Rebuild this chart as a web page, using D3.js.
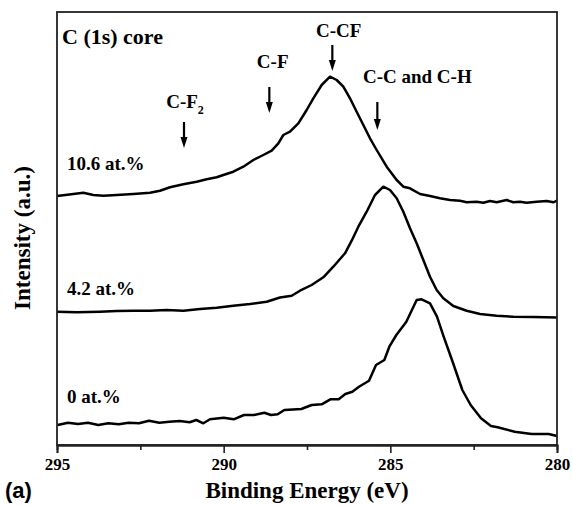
<!DOCTYPE html>
<html>
<head>
<meta charset="utf-8">
<script src="https://cdn.jsdelivr.net/npm/d3@7"></script>
<style>
  html, body { margin: 0; padding: 0; background: #fff; }
  svg { display: block; }
  text { font-family: "Liberation Serif", "Times New Roman", serif; font-weight: bold; fill: #000; }
</style>
</head>
<body>
<svg id="chart" width="573" height="506"></svg>
<script>
// ---- Data (binding energy in eV, intensity in arbitrary units, stacked with offsets) ----
const energy106 = [295.00,294.75,294.51,294.21,293.91,293.61,293.21,292.71,292.21,291.91,291.61,291.21,290.81,290.51,290.21,290.01,289.71,289.41,289.11,288.81,288.56,288.36,288.21,288.01,287.76,287.51,287.31,287.06,286.81,286.61,286.41,286.21,286.01,285.81,285.61,285.41,285.11,284.81,284.61,284.41,284.11,283.81,283.51,283.21,282.91,282.71,282.41,282.21,282.01,281.81,281.51,281.31,281.11,280.91,280.61,280.31,280.11,280.00];
const intensity106 = [249,250,251,252.3,250,249.3,250,251,252.3,254.3,257.7,260.7,263.3,265.7,267.7,270,273.3,278.3,285,290,294.3,301.7,310,313.3,321.7,335,346.7,360,368.3,365,358.3,346.7,333.3,320,306.7,295,278.3,265,258.3,256.7,251,249,246.7,245,244.3,242.7,243.3,242.3,244,242.7,245,242.7,243.3,242.3,243.3,244,242.7,244.3];

const energy42 = [295.00,294.41,293.71,293.21,292.71,292.21,291.71,291.21,290.71,290.21,289.71,289.21,288.71,288.31,287.96,287.71,287.36,287.01,286.71,286.36,286.16,285.96,285.71,285.46,285.21,285.01,284.81,284.61,284.41,284.21,284.01,283.81,283.61,283.41,283.11,282.71,282.31,281.81,281.31,280.71,280.00];
const intensity42 = [133.3,132.7,133.3,134,134.3,134.3,135,134.3,136,137.3,139.3,141,143.3,147.5,149.3,154.3,160,167.7,178.3,191.7,204.3,218.3,233.3,250,258.3,255,246.7,233.3,216.7,201.7,185,168.3,155,146.7,139,134.3,131,129.3,128.3,128,127.5];

const energy0 = [294.98,294.67,294.37,294.07,293.76,293.46,293.15,292.85,292.54,292.24,291.93,291.63,291.32,291.02,290.82,290.61,290.41,290.00,289.70,289.39,289.09,288.78,288.58,288.38,288.18,287.67,287.36,287.06,286.80,286.55,286.35,286.14,285.94,285.64,285.43,285.18,285.03,284.82,284.52,284.21,284.06,283.81,283.60,283.40,283.15,282.84,282.59,282.28,281.98,281.78,281.27,280.76,280.25,280.00];
const intensity0 = [20,22.3,21,22.3,20,21.7,20.7,22.3,21.7,24.3,22.3,23.3,24,22.7,25,21.7,25.7,27.3,25.7,30,30,32.3,30,30.7,35,36,40,40.7,45.7,45.7,51,53.3,58.3,64.3,80,85,98.3,110,123.3,145,145.7,141.7,128.3,108.3,85,55,40,26.7,19,17.7,13.3,11,11,9];

const seriesLabels = ["10.6 at.%", "4.2 at.%", "0 at.%"];
const seriesLabelLevels = [275, 150, 42];   // intensity level of each label's baseline

const majorTicks = [295, 290, 285, 280];
const minorTicks = [292.5, 287.5, 282.5];

const peakNames = ["C-F2", "C-F", "C-CF", "C-C and C-H"];
const peakEnergies = [291.19, 288.63, 286.74, 285.39];
const peakLabelEnergies = [291.16, 288.53, 286.55, 284.19]; // centre of label text
const arrowTop = [323, 358, 400, 343];     // intensity level of arrow tail
const arrowTip = [297, 332, 374, 315];     // intensity level of arrow tip
const labelLevel = [337, 377, 408, 362];   // intensity level of label baseline

// ---- Layout ----
const svg = d3.select("#chart");
const L = 57, R = 557, T = 12, B = 445;

const x = d3.scaleLinear().domain([295, 280]).range([L, R]);
const y = d3.scaleLinear().domain([0, 433]).range([B, T]);

// curves
const line = d3.line().x(d => x(d[0])).y(d => y(d[1]));
const series = [
  d3.zip(energy106, intensity106),
  d3.zip(energy42, intensity42),
  d3.zip(energy0, intensity0)
];
svg.append("g").selectAll("path").data(series).join("path")
  .attr("d", line)
  .attr("fill", "none")
  .attr("stroke", "#000")
  .attr("stroke-width", 2.5)
  .attr("stroke-linejoin", "round");

// frame
svg.append("rect")
  .attr("x", L).attr("y", T).attr("width", R - L).attr("height", B - T)
  .attr("fill", "none").attr("stroke", "#222").attr("stroke-width", 1.8);

// axes
const axMajor = svg.append("g").attr("transform", `translate(0,${B})`)
  .call(d3.axisBottom(x).tickValues(majorTicks).tickSize(8).tickPadding(5).tickFormat(d3.format("d")));
const axMinor = svg.append("g").attr("transform", `translate(0,${B})`)
  .call(d3.axisBottom(x).tickValues(minorTicks).tickSize(5).tickFormat(""));
[axMajor, axMinor].forEach(g => {
  g.select(".domain").attr("stroke", "#222").attr("stroke-width", 1.8);
  g.selectAll(".tick line").attr("stroke", "#222").attr("stroke-width", 1.6);
});
axMajor.selectAll(".tick text")
  .style("font-family", '"Liberation Serif", serif')
  .style("font-weight", "bold")
  .style("font-size", "17px")
  .attr("fill", "#000");

// axis titles
svg.append("text")
  .attr("x", (L + R) / 2 - 0).attr("y", 498)
  .attr("text-anchor", "middle")
  .style("font-size", "23px")
  .text("Binding Energy (eV)");

svg.append("text")
  .attr("transform", `translate(30,238) rotate(-90)`)
  .attr("text-anchor", "middle")
  .style("font-size", "23px")
  .text("Intensity (a.u.)");

svg.append("text")
  .attr("x", 5).attr("y", 498)
  .style("font-family", '"Liberation Sans", Arial, sans-serif')
  .style("font-size", "22px")
  .text("(a)");

// panel title
svg.append("text")
  .attr("x", 62).attr("y", 44)
  .style("font-size", "22px")
  .text("C (1s) core");

// series labels
svg.append("g").selectAll("text").data(seriesLabels).join("text")
  .attr("x", 67)
  .attr("y", (d, i) => y(seriesLabelLevels[i]))
  .style("font-size", "19px")
  .text(d => d);

// peak labels
const pk = svg.append("g");
peakNames.forEach((name, i) => {
  const t = pk.append("text")
    .attr("x", x(peakLabelEnergies[i]))
    .attr("y", y(labelLevel[i]))
    .attr("text-anchor", "middle")
    .style("font-size", "19px");
  if (name === "C-F2") {
    t.append("tspan").text("C-F");
    t.append("tspan").attr("dy", 6).style("font-size", "12px").text("2");
  } else {
    t.text(name);
  }
});

// arrows
const arrows = svg.append("g");
peakEnergies.forEach((e, i) => {
  const ax = x(e), y0 = y(arrowTop[i]), y1 = y(arrowTip[i]);
  arrows.append("line")
    .attr("x1", ax).attr("x2", ax).attr("y1", y0).attr("y2", y1 - 8)
    .attr("stroke", "#000").attr("stroke-width", 2.2);
  arrows.append("path")
    .attr("d", `M${ax - 3.5},${y1 - 11} L${ax + 3.5},${y1 - 11} L${ax},${y1} Z`)
    .attr("fill", "#000");
});
</script>
</body>
</html>
